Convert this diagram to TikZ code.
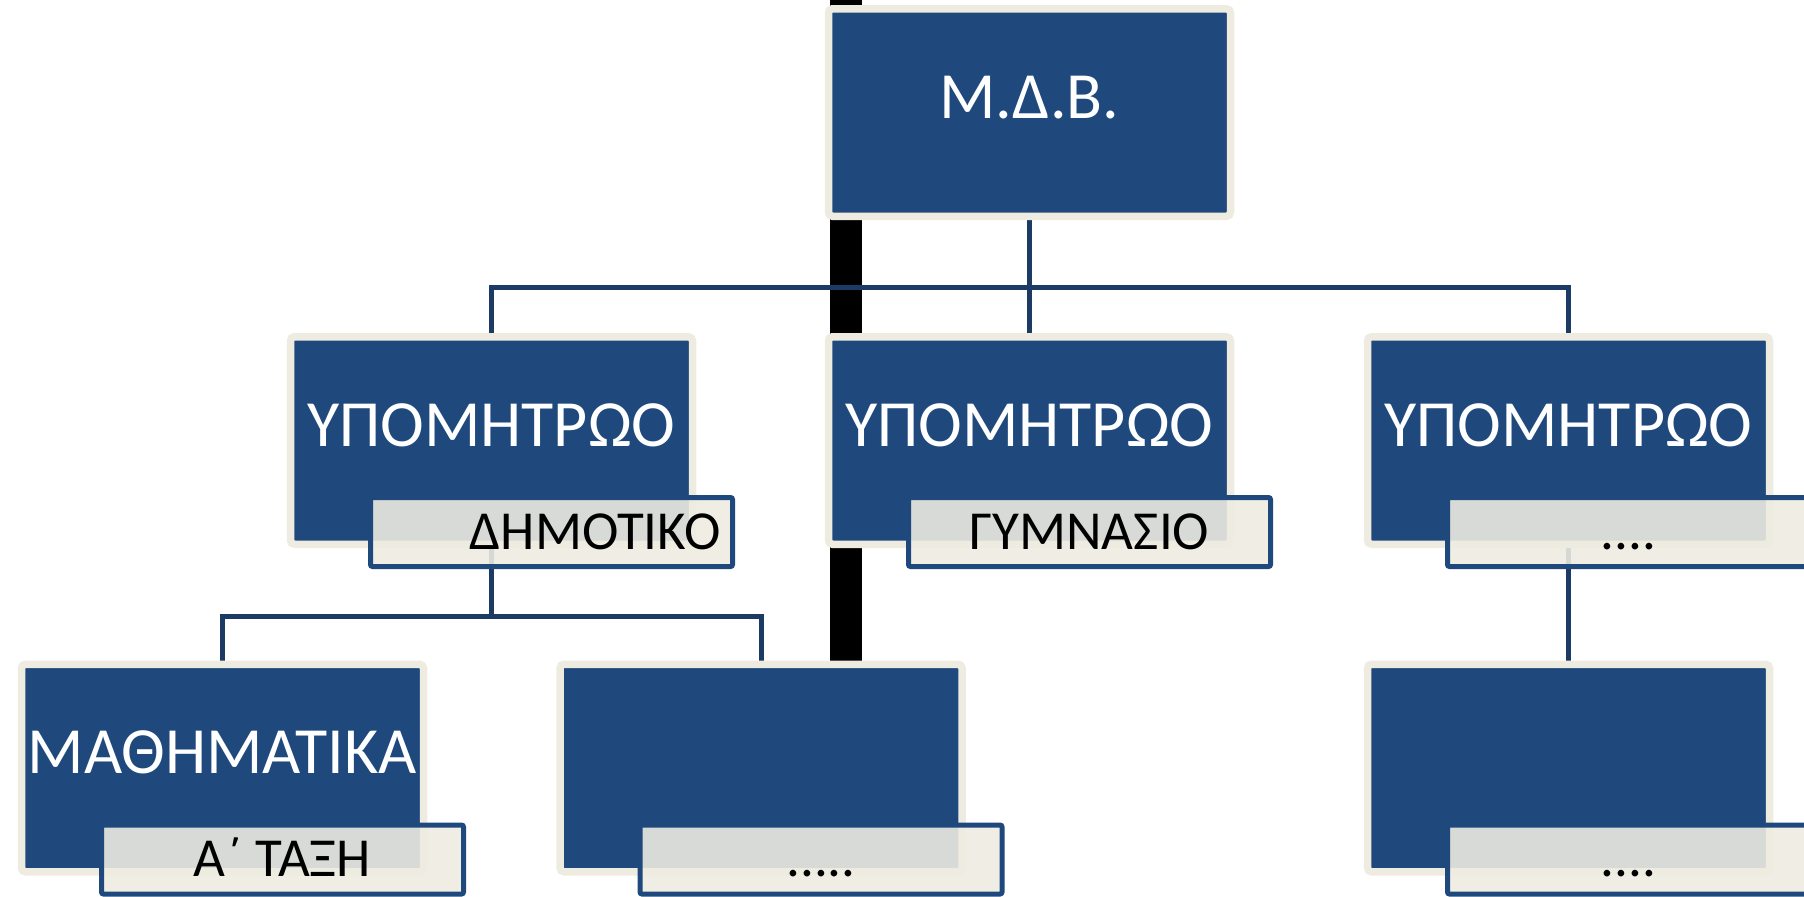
\documentclass[tikz,border=0pt]{standalone}
\usepackage{fontspec}
\setmainfont{Carlito}
\usetikzlibrary{shadows,positioning,backgrounds}
\definecolor{boxblue}{RGB}{31,73,125}
\definecolor{boxrim}{RGB}{238,236,225}
\definecolor{linkblue}{RGB}{27,59,100}
\tikzset{
  box/.style={fill=boxblue, draw=boxrim, line width=3.75pt, rounded corners=2pt,
    minimum width=201pt, minimum height=103.75pt, inner sep=0pt,
    text=white, font=\fontsize{33}{40}\selectfont,
    text height=21.5pt, text depth=16pt,
    drop shadow={shadow xshift=0pt, shadow yshift=-1.5pt, opacity=0.25}},
  tag/.style={draw=boxblue, line width=2.5pt, rounded corners=1pt,
    fill=boxrim, fill opacity=0.89, text opacity=1,
    minimum width=181pt, minimum height=34.5pt, inner sep=0pt,
    font=\fontsize{27.5}{32}\selectfont, text height=17pt, text depth=0pt},
  link/.style={draw=linkblue, line width=2.5pt}
}
\begin{document}
\begin{tikzpicture}[x=0.5pt, y=-0.5pt]
  \useasboundingbox (0,0) rectangle (1804,896);
  % Kaesten
  \node [box] (mdb)  at (1029.5,112.5) {Μ.Δ.Β.};
  \node [box] (sub1) at (491.5,440.5)  {ΥΠΟΜΗΤΡΩΟ};
  \node [box] (sub2) at (1029.5,440.5) {ΥΠΟΜΗΤΡΩΟ};
  \node [box] (sub3) at (1568.5,440.5) {ΥΠΟΜΗΤΡΩΟ};
  \node [box] (math) at (222.5,768)    {ΜΑΘΗΜΑΤΙΚΑ};
  \node [box] (more) at (761,768)      {};
  \node [box] (rest) at (1568.5,768)   {};
  % Etiketten
  \node [tag, text width=169pt, align=right] (tag1) at ([shift={(60,91.5)}]sub1.center) {ΔΗΜΟΤΙΚΟ};
  \node [tag] (tag2) at ([shift={(60,91.5)}]sub2.center) {ΓΥΜΝΑΣΙΟ};
  \node [tag] (tag3) at ([shift={(60,91.5)}]sub3.center) {....};
  \node [tag] (tag4) at ([shift={(60,91.5)}]math.center) {Α΄ ΤΑΞΗ};
  \node [tag] (tag5) at ([shift={(60,91.5)}]more.center) {.....};
  \node [tag] (tag6) at ([shift={(60,91.5)}]rest.center) {....};
  % Verbindungen
  \coordinate [below=33.5pt of mdb]  (bus1);
  \coordinate [below=34pt of sub1] (bus2);
  \begin{scope}[on background layer]
    \fill (830,0) rectangle (862,664);
    \draw [link] (mdb) -- (sub2);
    \draw [link] (sub1) |- (bus1) -| (sub3);
    \draw [link] (sub1) -- (bus2);
    \draw [link] (math) |- (bus2) -| (more);
    \draw [link] (sub3) -- (rest);
  \end{scope}
\end{tikzpicture}
\end{document}
